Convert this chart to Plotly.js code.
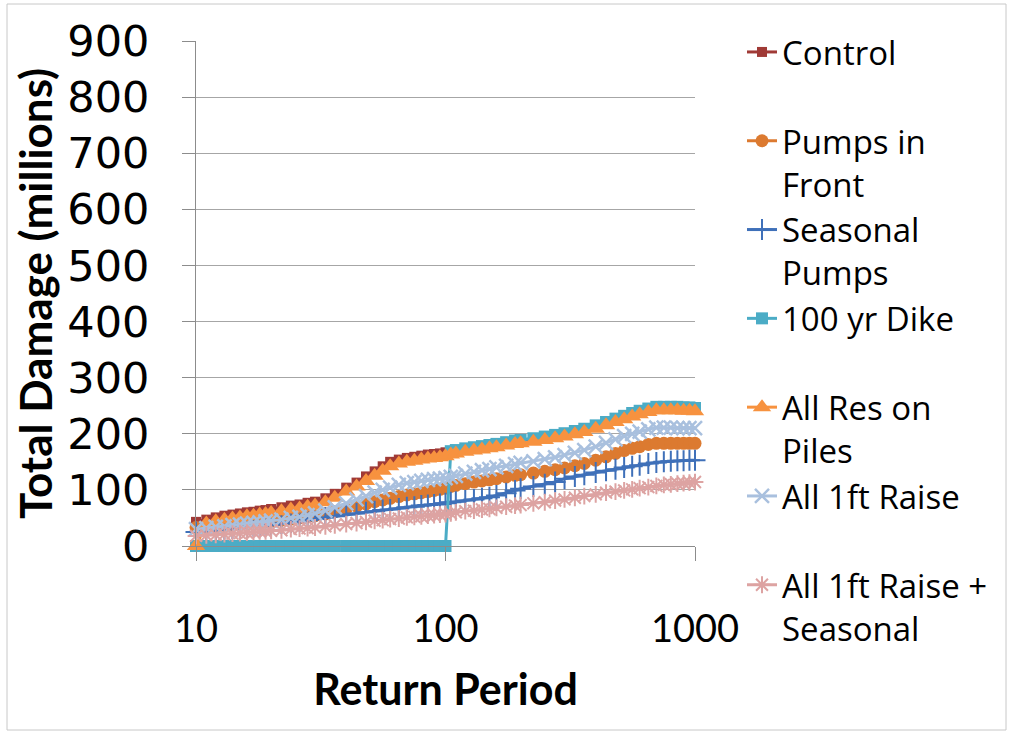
<!DOCTYPE html>
<html>
<head>
<meta charset="utf-8">
<script src="https://cdn.plot.ly/plotly-3.0.1.min.js"></script>
<style>html,body{margin:0;padding:0;background:#fff;}#chart{width:1011px;height:734px;}</style>
</head>
<body>
<div id="chart"></div>
<script>
// Return periods (years)
const returnPeriod = [10,11,12,13,14,15,16,17,18,19,20,22,24,26,28,30,33,36,40,44,48,52,56,60,65,70,75,80,85,90,95,100,105,110,120,130,140,150,160,175,190,200,225,250,275,300,330,360,400,440,480,520,560,600,650,700,750,800,850,900,950,1000];

// Total damage (millions) per scenario
const control = [43,47,51,54,56,58,60,61,63,64,66,69,72,74,77,79,85,93,104,113,124,133,142,150,154,157,159,161,163,164,165,167,168,170,173,175,177,179,181,184,187,188,191,194,197,200,204,208,214,220,226,231,236,240,244,247,247,247,247,246,246,245];
const pumpsInFront = [33,35,36,37,38,39,40,41,42,43,44,46,48,50,52,54,57,61,66,71,75,79,82,85,88,91,93,95,97,99,101,103,106,108,111,114,116,118,120,123,126,127,130,133,136,139,143,147,153,159,165,170,174,177,181,183,183,183,183,183,183,183];
const seasonalPumps = [25,27,29,30,31,32,34,35,36,37,38,40,42,44,46,48,51,53,56,58,60,62,64,65,67,69,70,72,73,74,75,76,78,79,81,83,85,87,90,94,99,102,106,110,114,120,124,127,131,134,137,140,142,144,147,149,150,151,152,152,153,153];
const dike100yr = [0,0,0,0,0,0,0,0,0,0,0,0,0,0,0,0,0,0,0,0,0,0,0,0,0,0,0,0,0,0,0,0,169,171,174,176,178,180,182,185,188,189,192,195,198,201,205,209,215,221,227,232,237,241,245,248,248,248,248,247,247,246];
const resOnPiles = [0,40,44,47,49,51,53,54,56,57,59,62,65,67,70,72,78,86,97,106,116,125,134,142,147,150,152,154,156,157,158,160,163,165,168,170,172,174,176,179,182,183,186,189,192,195,199,203,209,215,221,226,231,235,239,242,242,242,242,241,241,240];
const raise1ft = [30,32,34,35,37,38,40,41,42,44,45,47,50,52,55,58,63,69,76,83,89,95,100,104,109,112,114,116,118,119,120,121,123,125,129,132,135,137,140,143,146,148,151,155,158,162,166,171,177,184,190,196,200,204,208,211,211,211,210,210,210,210];
const raise1ftSeasonal = [18,19,20,21,22,23,24,25,26,26,27,28,30,31,32,33,35,37,39,41,43,45,46,48,49,51,52,53,54,55,56,57,58,60,62,63,65,66,68,70,72,73,76,78,81,83,86,89,92,95,97,99,101,103,105,107,109,110,111,112,113,114];

const seriesNames = ["Control<br> ","Pumps in<br>Front","Seasonal<br>Pumps","100 yr Dike<br> ","All Res on<br>Piles","All 1ft Raise<br> ","All 1ft Raise +<br>Seasonal"];
const xTickVals = [10,100,1000];
const xTickText = ["10","100","1000"];
const yTickVals = [0,100,200,300,400,500,600,700,800,900];

const styles = [
  {color:"#A03A36", symbol:"square", size:10, lw:3},
  {color:"#DC7A30", symbol:"circle", size:13, lw:3},
  {color:"#3F70B9", symbol:"cross-thin", size:15, lw:3, mlw:2},
  {color:"#4BACC6", symbol:"square", size:12, lw:3},
  {color:"#F7923F", symbol:"triangle-up", size:16, lw:3},
  {color:"#A9C0DE", symbol:"x-thin", size:14, lw:3, mlw:2.5},
  {color:"#DDA3A2", symbol:"asterisk", size:14, lw:3, mlw:2}
];
const data = [control,pumpsInFront,seasonalPumps,dike100yr,resOnPiles,raise1ft,raise1ftSeasonal];

const traces = data.map((ys,i)=>{
  const s = styles[i];
  const m = {color:s.color, symbol:s.symbol, size:s.size};
  if (s.mlw) m.line = {color:s.color, width:s.mlw};
  return {x:returnPeriod, y:ys, name:seriesNames[i], type:"scatter", mode:"lines+markers",
    cliponaxis:false, line:{color:s.color, width:s.lw}, marker:m};
});

// pixel helpers for paper coords (plot area 196..695 x, 41..546 y)
const L=196, R=316, T=41, B=188, W=1011-L-R, H=734-T-B;
const px = x => (x-L)/W;
const py = y => (734-B-y)/H;

const layout = {
  width:1011, height:734,
  margin:{l:L, r:R, t:T, b:B},
  paper_bgcolor:"#ffffff", plot_bgcolor:"#ffffff",
  showlegend:true,
  legend:{x:px(742), y:py(24), xanchor:"left", yanchor:"top", valign:"top", maxheight:720,
    font:{family:"Open Sans, sans-serif", size:33, color:"#000"}, bgcolor:"rgba(0,0,0,0)", itemwidth:30},
  xaxis:{type:"log", range:[1,3], tickvals:xTickVals, ticktext:xTickText,
    ticks:"outside", ticklen:14, tickcolor:"#8c8c8c", tickwidth:1,
    showline:true, linecolor:"#8c8c8c", linewidth:1, showgrid:false, zeroline:false,
    ticklabelstandoff:35,
    tickfont:{family:"Lato, sans-serif", size:38, color:"#000"},
    title:{text:"<b>Return Period</b>", font:{family:"Lato, sans-serif", size:43, color:"#000"}, standoff:26}},
  yaxis:{range:[0,900], tickvals:yTickVals, ticks:"outside", ticklen:13, tickcolor:"#8c8c8c",
    showline:true, linecolor:"#8c8c8c", linewidth:1, showgrid:true, gridcolor:"#a6a6a6", gridwidth:1, zeroline:false,
    ticklabelstandoff:24,
    tickfont:{family:"DejaVu Sans, sans-serif", size:43, color:"#000"},
    title:{text:"<b>Total Damage (millions)</b>", font:{family:"Lato, sans-serif", size:44, color:"#000"}, standoff:0}},
  shapes:[{type:"rect", xref:"paper", yref:"paper", x0:px(7), x1:px(1006), y0:py(730), y1:py(4),
    line:{color:"#c8c8c8", width:1}, layer:"below"}]
};

Plotly.newPlot("chart", traces, layout, {displayModeBar:false, staticPlot:true});
</script>
</body>
</html>
